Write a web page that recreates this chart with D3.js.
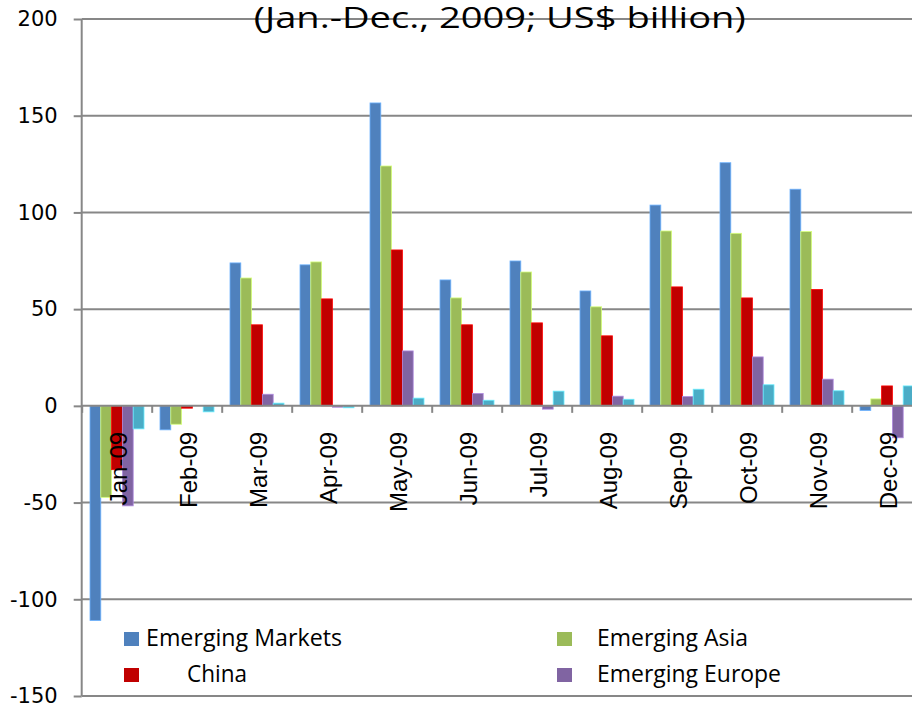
<!DOCTYPE html>
<html>
<head>
<meta charset="utf-8">
<script src="https://cdn.jsdelivr.net/npm/d3@7"></script>
<style>
  html, body { margin: 0; padding: 0; background: #fff; overflow: hidden; }
  svg { display: block; }
</style>
</head>
<body>
<svg id="chart" width="912" height="707"></svg>
<script>
// Monthly capital flows, 2009 (US$ billion)
const months = ["Jan-09", "Feb-09", "Mar-09", "Apr-09", "May-09", "Jun-09",
                "Jul-09", "Aug-09", "Sep-09", "Oct-09", "Nov-09", "Dec-09"];
const emergingMarkets = [-111, -12.4, 73.9, 72.9, 156.6, 65.1, 74.9, 59.4, 103.8, 125.7, 112, -2.4];
const emergingAsia    = [-47.3, -9.5, 66.1, 74.4, 124, 55.8, 69.2, 51.2, 90.4, 89.2, 90.1, 3.6];
const china           = [-33, -1.2, 41.9, 55.3, 80.6, 41.9, 42.9, 36.2, 61.5, 55.8, 60.2, 10.3];
const emergingEurope  = [-51.7, 0, 6.0, -0.7, 28.4, 6.4, -1.7, 5.0, 4.8, 25.3, 13.8, -16.5];
const latinAmerica    = [-11.9, -3.1, 1.4, -1.0, 4.0, 2.9, 7.6, 3.4, 8.6, 10.9, 7.8, 10.3];

const seriesNames = ["Emerging Markets", "Emerging Asia", "China", "Emerging Europe", "Latin America"];
const seriesValues = [emergingMarkets, emergingAsia, china, emergingEurope, latinAmerica];
const seriesColors = ["#4F81BD", "#9BBB59", "#C00000", "#8064A2", "#4BACC6"];
const legendNames = ["Emerging Markets", "Emerging Asia", "China", "Emerging Europe"];
const yTicks = [-150, -100, -50, 0, 50, 100, 150, 200];
const titleText = "(Jan.-Dec., 2009; US$ billion)";

const svg = d3.select("#chart");
const plotLeft = 81.7, plotRight = 921.7, plotTop = 19, plotBottom = 696;
const gridColor = "#878787";

const y = d3.scaleLinear().domain([-150, 200]).range([plotBottom, plotTop]);
const x0 = d3.scaleBand().domain(months).range([plotLeft, plotRight]).paddingInner(0).paddingOuter(0);
const x1 = d3.scaleBand().domain(seriesNames).range([8.3, x0.bandwidth() - 7.7]).padding(0);
const xEdge = d3.scaleLinear().domain([0, months.length]).range([plotLeft, plotRight]);

// horizontal gridlines
svg.append("g")
  .selectAll("line")
  .data(yTicks.filter(v => v !== 0))
  .join("line")
  .attr("x1", plotLeft).attr("x2", 912)
  .attr("y1", d => y(d)).attr("y2", d => y(d))
  .attr("stroke", gridColor).attr("stroke-width", 2);

// title (second line of chart heading)
svg.append("text")
  .attr("x", (plotLeft + plotRight) / 2 - 2)
  .attr("y", 28)
  .attr("text-anchor", "middle")
  .attr("font-family", "'Open Sans', sans-serif")
  .attr("font-size", 29)
  .attr("textLength", 492)
  .attr("lengthAdjust", "spacingAndGlyphs")
  .attr("fill", "#000")
  .text(titleText);

// bars
const rows = months.map((m, i) => ({ month: m, vals: seriesNames.map((s, j) => ({ s, j, v: seriesValues[j][i] })) }));
const groups = svg.append("g")
  .selectAll("g")
  .data(rows)
  .join("g")
  .attr("transform", d => `translate(${x0(d.month)},0)`);
groups.selectAll("rect")
  .data(d => d.vals.filter(e => e.v !== 0))
  .join("rect")
  .attr("x", d => x1(d.s))
  .attr("width", x1.bandwidth())
  .attr("y", d => y(Math.max(0, d.v)))
  .attr("height", d => Math.abs(y(d.v) - y(0)))
  .attr("fill", d => seriesColors[d.j])
  .attr("stroke", d => d3.color(seriesColors[d.j]).brighter(0.9))
  .attr("stroke-width", 0.8);

// y axis
const yAxis = svg.append("g")
  .attr("transform", `translate(${plotLeft},0)`)
  .call(d3.axisLeft(y).tickValues(yTicks).tickSize(8).tickPadding(16).tickFormat(d => String(d)));
yAxis.select(".domain").attr("stroke", gridColor).attr("stroke-width", 2)
  .attr("d", `M0,${plotTop}V${plotBottom}`);
yAxis.selectAll(".tick line").attr("stroke", gridColor).attr("stroke-width", 2);
yAxis.selectAll(".tick text")
  .attr("font-family", "'DejaVu Sans', sans-serif")
  .attr("font-size", 21)
  .attr("fill", "#000");

// category axis on the zero line
const xAxis = svg.append("g")
  .attr("transform", `translate(0,${y(0)})`)
  .call(d3.axisBottom(xEdge).tickValues(d3.range(0, months.length + 1)).tickSize(7).tickFormat(""));
xAxis.select(".domain").attr("stroke", gridColor).attr("stroke-width", 2)
  .attr("d", `M${plotLeft},0H912`);
xAxis.selectAll(".tick line").attr("stroke", gridColor).attr("stroke-width", 2);

// rotated month labels
const xLabels = svg.append("g")
  .attr("transform", `translate(0,${y(0)})`)
  .call(d3.axisBottom(x0).tickSize(0).tickFormat(d => d));
xLabels.select(".domain").remove();
xLabels.selectAll(".tick text")
  .attr("font-family", "'Liberation Sans', Arial, sans-serif")
  .attr("font-size", 24)
  .attr("fill", "#000")
  .attr("text-anchor", "end")
  .attr("transform", "rotate(-90)")
  .attr("x", -26)
  .attr("y", 0)
  .attr("dy", "0.42em");

// legend
const legendPos = [
  { sx: 124, tx: 146, by: 646, w: 196 },
  { sx: 557, tx: 597, by: 646, w: 151 },
  { sx: 124, tx: 187, by: 682, w: 60 },
  { sx: 557, tx: 597, by: 682, w: 184 }
];
const legend = svg.append("g")
  .selectAll("g")
  .data(legendNames)
  .join("g");
legend.append("rect")
  .attr("x", (d, i) => legendPos[i].sx)
  .attr("y", (d, i) => legendPos[i].by - 14)
  .attr("width", 15).attr("height", 14)
  .attr("fill", d => seriesColors[seriesNames.indexOf(d)]);
legend.append("text")
  .attr("x", (d, i) => legendPos[i].tx)
  .attr("y", (d, i) => legendPos[i].by)
  .attr("font-family", "'Open Sans', sans-serif")
  .attr("font-size", 23)
  .attr("textLength", (d, i) => legendPos[i].w)
  .attr("lengthAdjust", "spacingAndGlyphs")
  .attr("fill", "#000")
  .text(d => d);
</script>
</body>
</html>
